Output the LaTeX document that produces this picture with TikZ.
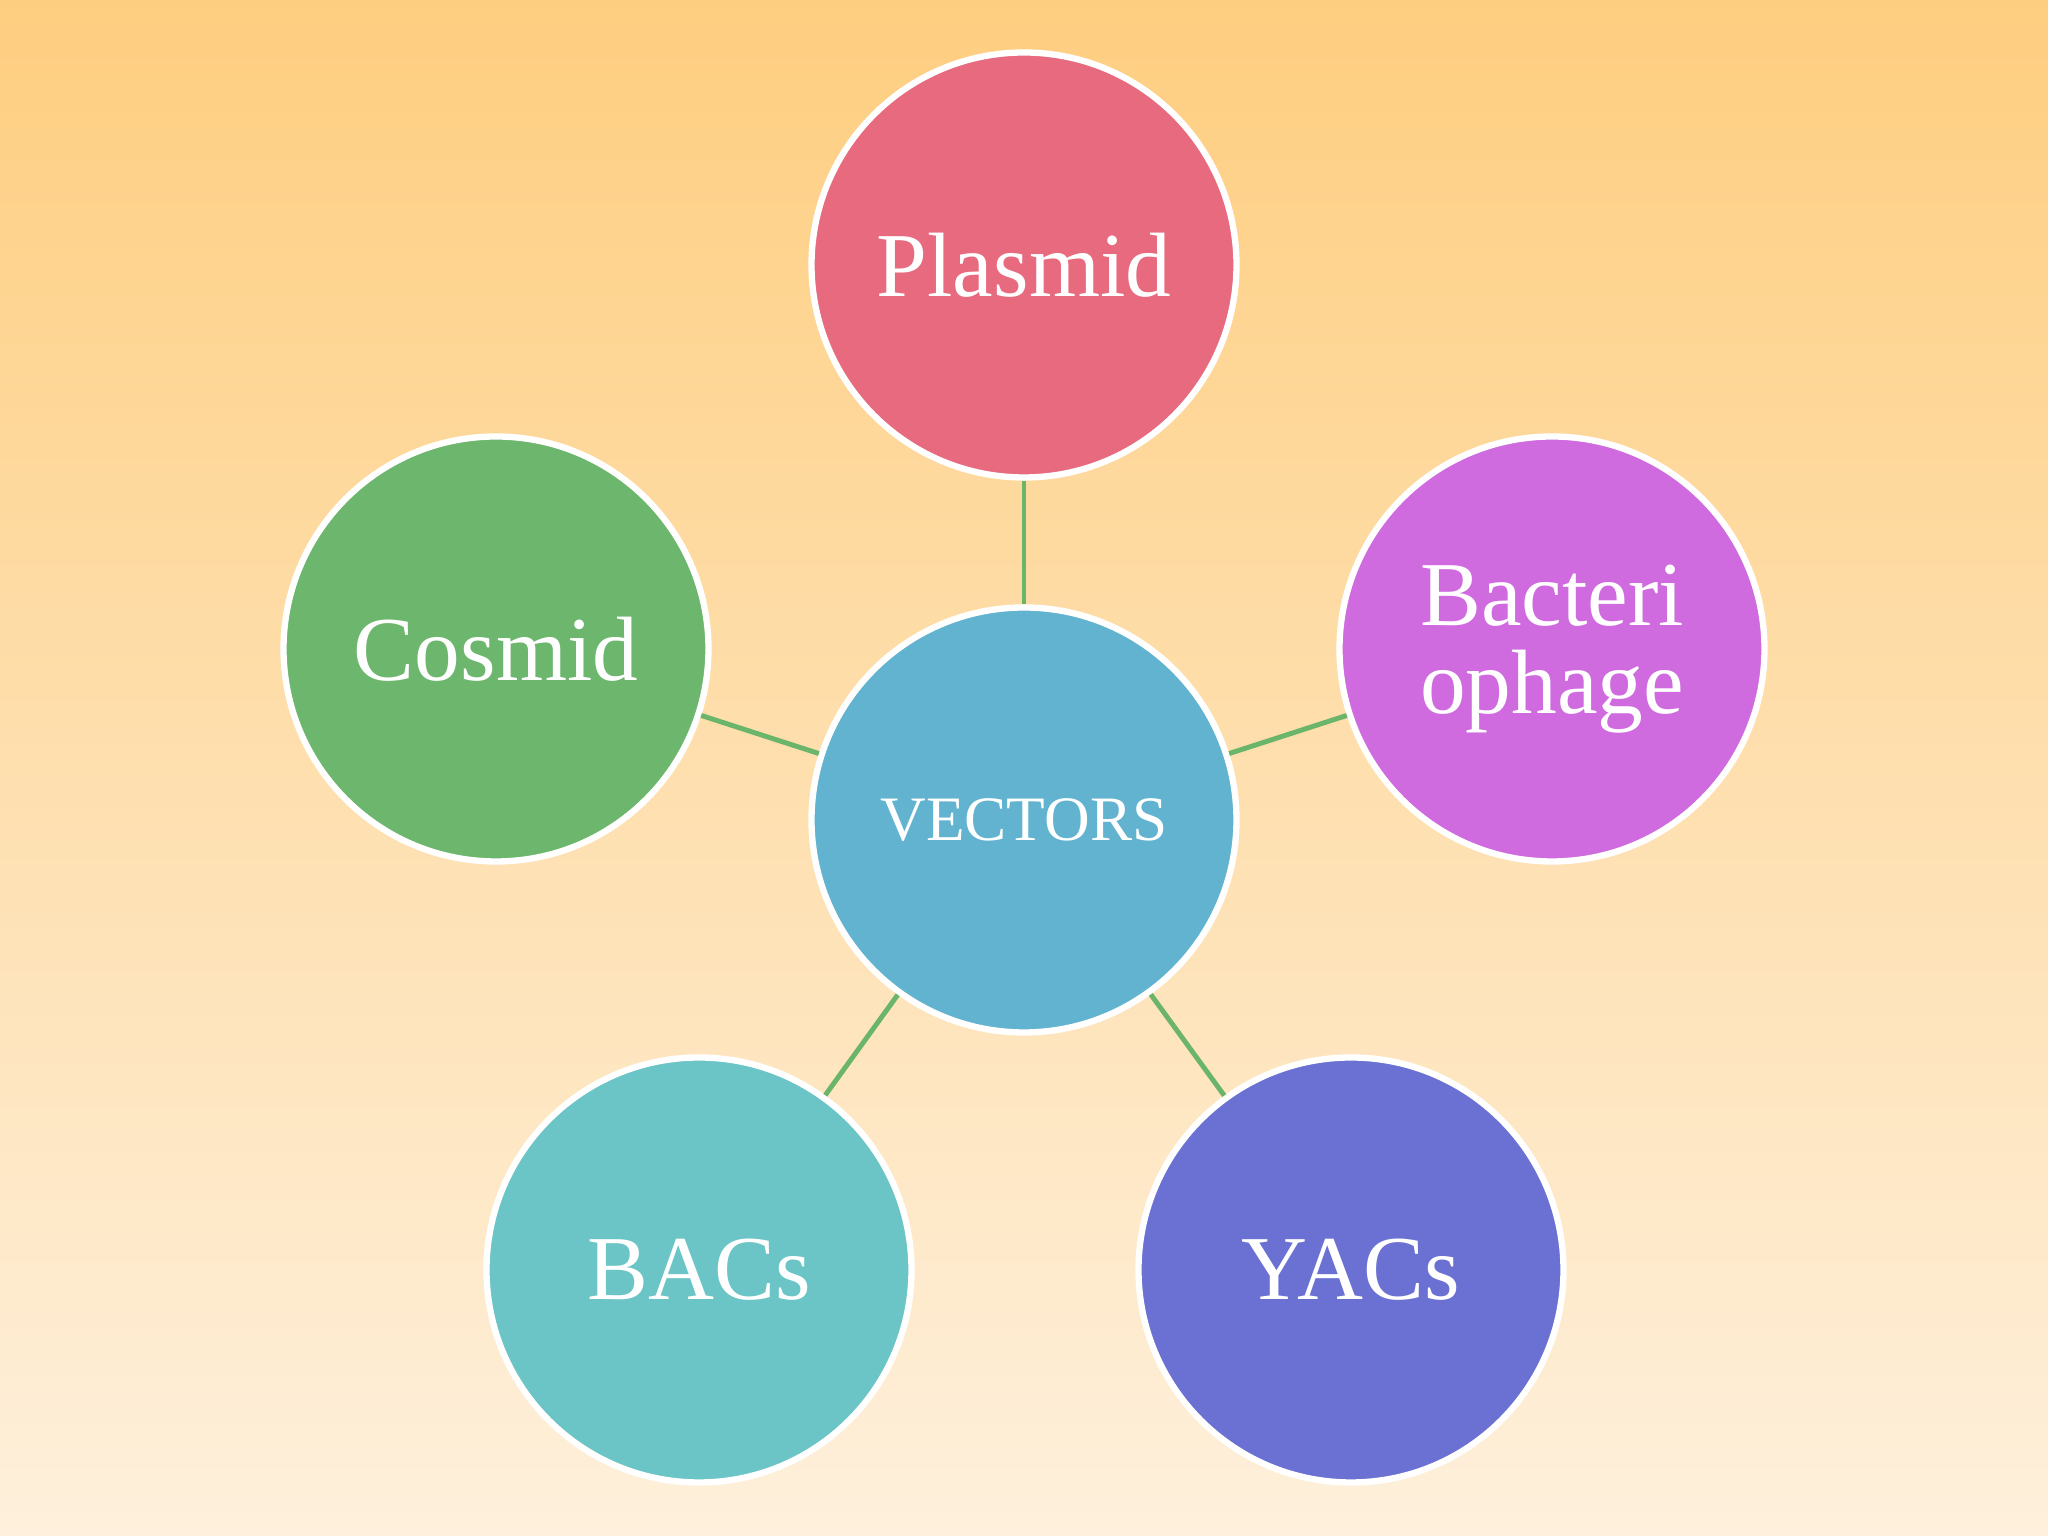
\documentclass[tikz,border=0pt]{standalone}
\usepackage{fontspec}
\setmainfont{Liberation Serif}
\usepackage{tikz}
\definecolor{bgtop}{HTML}{FECE80}
\definecolor{bgbot}{HTML}{FEF0DC}
\definecolor{linkgreen}{HTML}{6BB56B}
\definecolor{plasmidc}{HTML}{E76A7E}
\definecolor{cosmidc}{HTML}{6DB66D}
\definecolor{phagec}{HTML}{CF6ADF}
\definecolor{vectorc}{HTML}{62B3CF}
\definecolor{bacc}{HTML}{6BC4C5}
\definecolor{yacc}{HTML}{6B71D3}
\tikzset{
  bubble/.style={circle, draw=white, line width=1.8pt, minimum size=4.25cm,
    inner sep=0pt, text=white, align=center,
    font=\fontsize{26}{25}\selectfont},
  link/.style={draw=linkgreen, line width=1.4pt}
}
\begin{document}
\begin{tikzpicture}[line join=round]
\shade[top color=bgtop, bottom color=bgbot] (0,0) rectangle (20.48,15.36);
\useasboundingbox (0,0) rectangle (20.48,15.36);
\coordinate (C) at (10.24,7.16);
\coordinate (P) at (10.24,12.71);
\coordinate (K) at (4.96,8.87);
\coordinate (F) at (15.52,8.87);
\coordinate (B) at (6.99,2.66);
\coordinate (Y) at (13.51,2.66);
\node[bubble, fill=vectorc, font=\fontsize{18}{20}\selectfont] (vectors) at (C) {VECTORS};
\node[bubble, fill=plasmidc] (plasmid) at (P) {Plasmid};
\node[bubble, fill=cosmidc] (cosmid) at (K) {Cosmid};
\node[bubble, fill=phagec] (phage) at (F) {Bacteri\\ophage};
\node[bubble, fill=bacc] (bacs) at (B) {BACs};
\node[bubble, fill=yacc] (yacs) at (Y) {YACs};
\draw[link] (vectors) -- (plasmid);
\draw[link] (vectors) -- (cosmid);
\draw[link] (vectors) -- (phage);
\draw[link] (vectors) -- (bacs);
\draw[link] (vectors) -- (yacs);
\end{tikzpicture}
\end{document}
